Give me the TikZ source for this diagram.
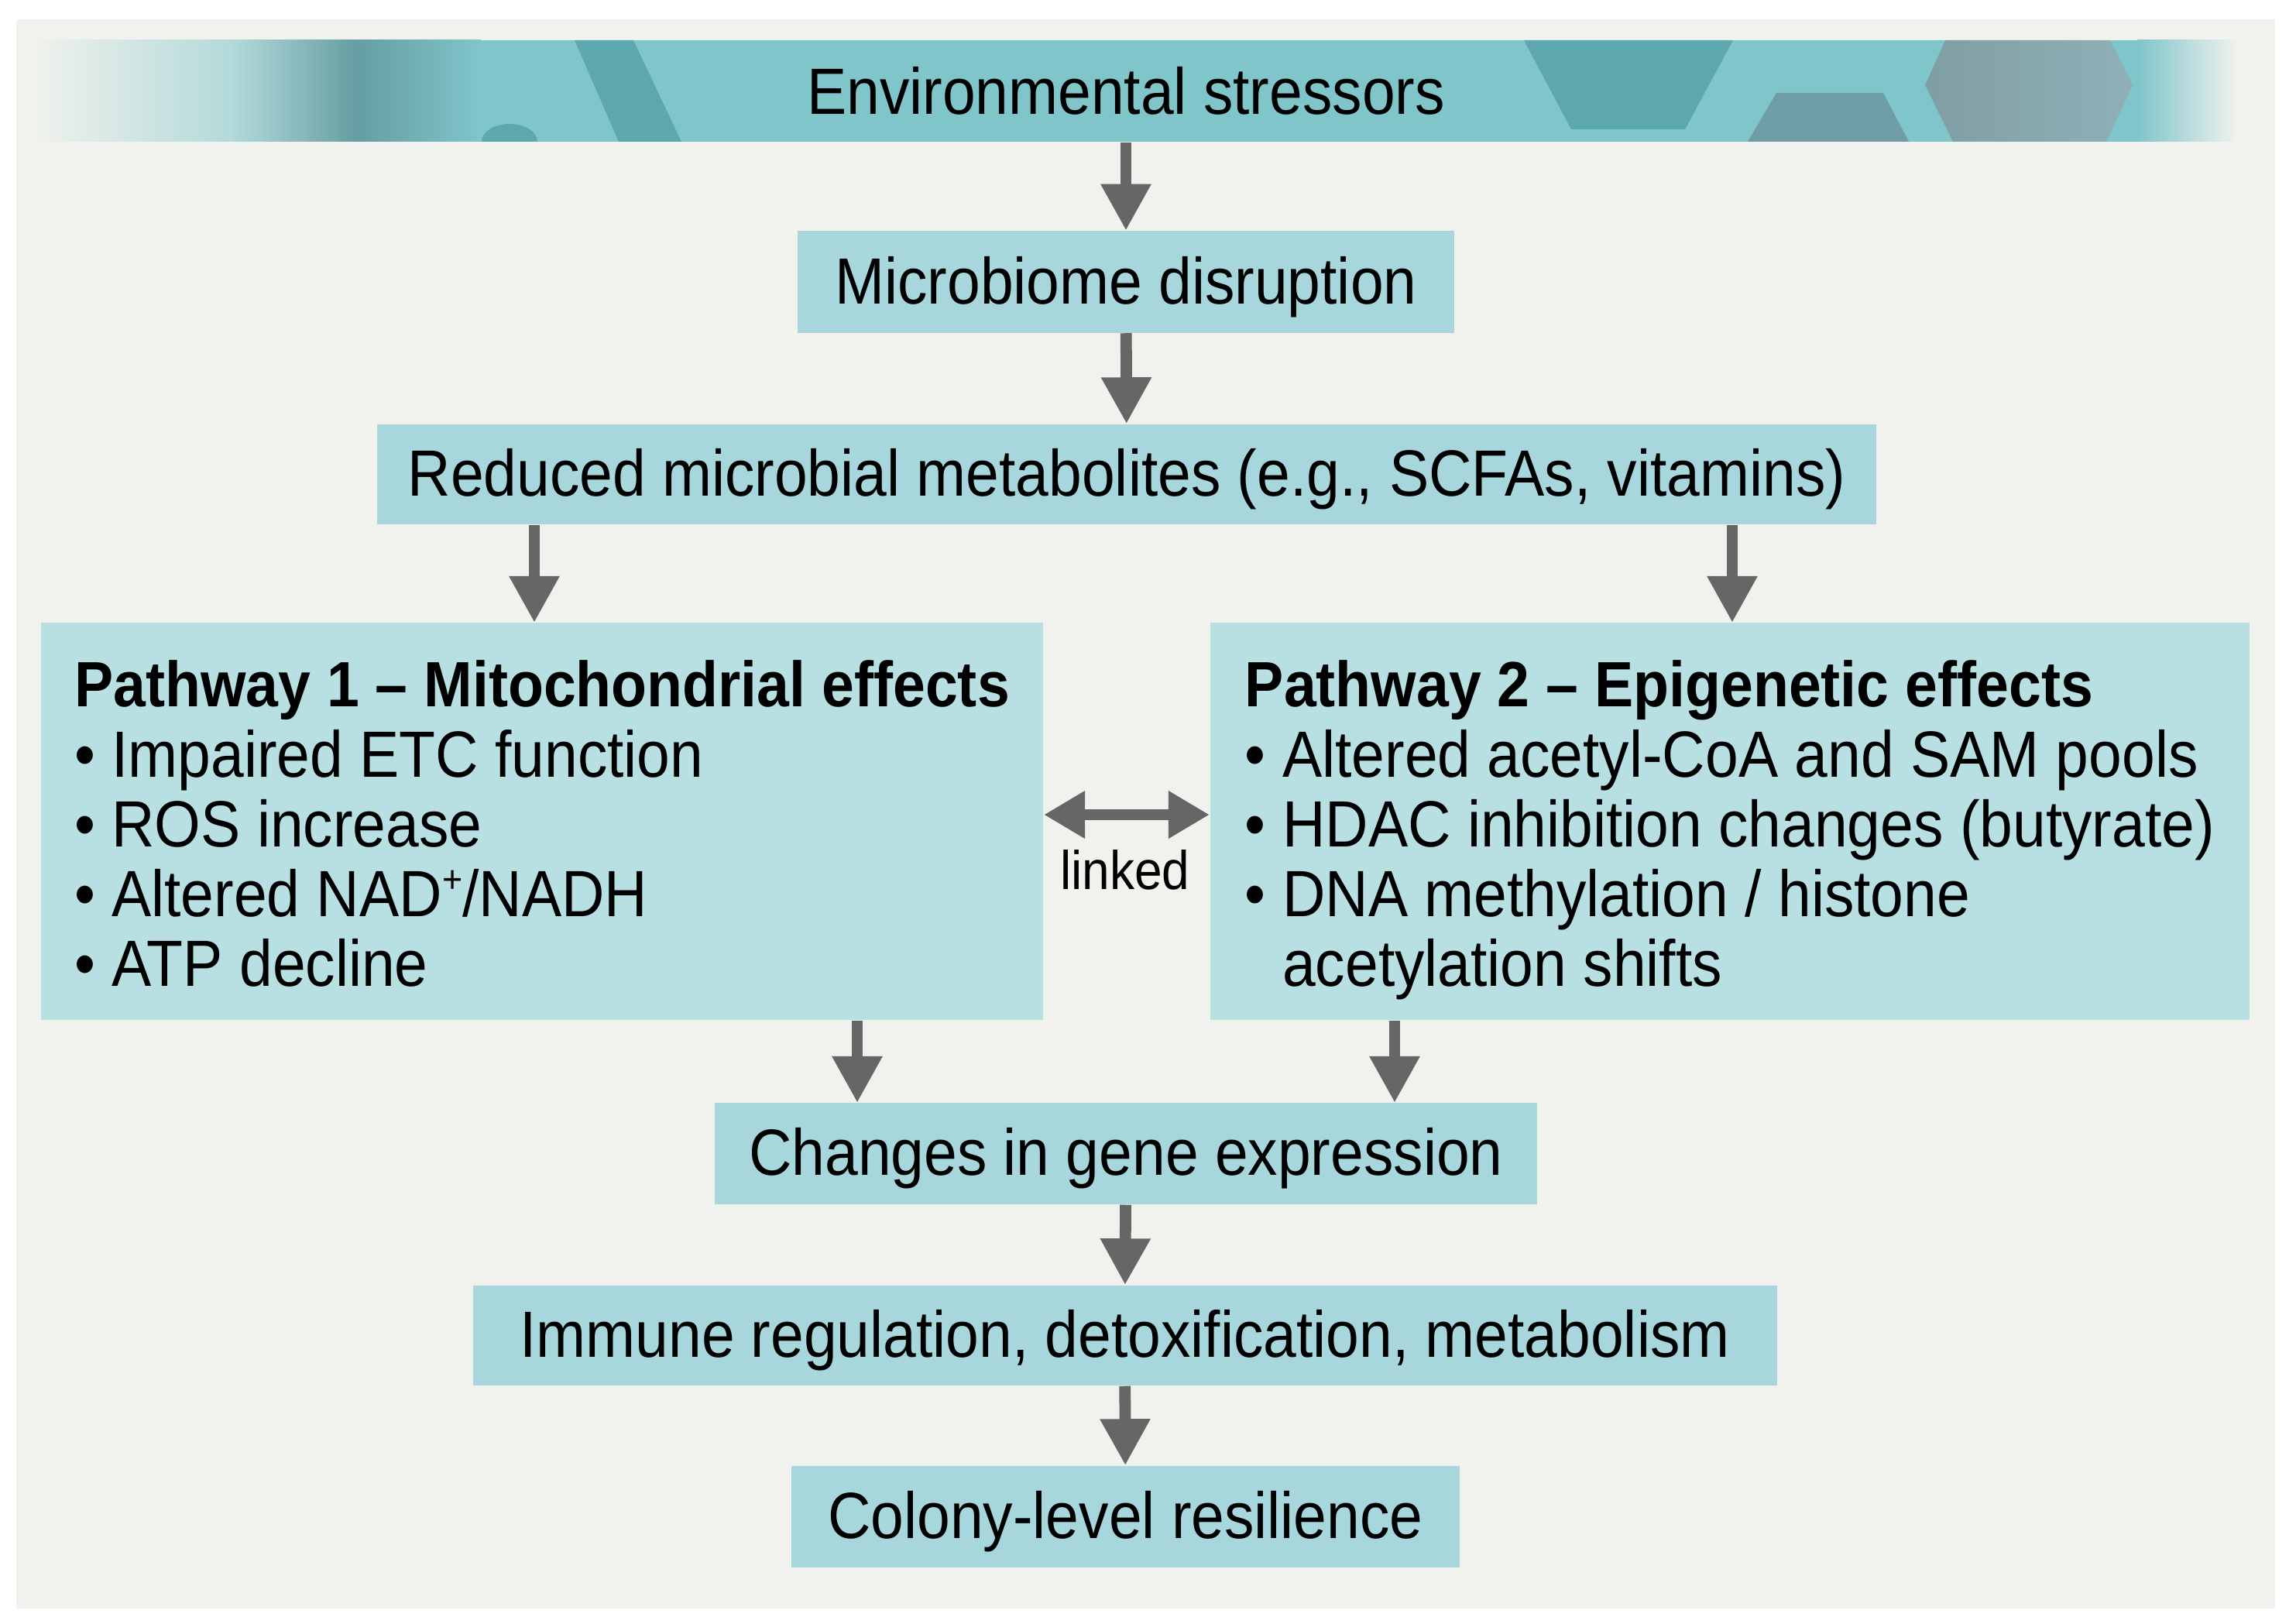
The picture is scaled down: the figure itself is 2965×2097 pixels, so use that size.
\documentclass[tikz,border=0pt]{standalone}
\usepackage{fontspec}
\setmainfont{Liberation Sans}[FakeStretch=0.91]
\usetikzlibrary{arrows.meta}
\definecolor{panel}{HTML}{F1F2ED}
\definecolor{boxfill}{HTML}{A7D7DC}
\definecolor{pathfill}{HTML}{B8E0E3}
\definecolor{banner}{HTML}{7FC5CA}
\definecolor{bannerdark}{HTML}{5DA8AE}
\definecolor{bannergrey}{HTML}{6F9DA5}
\definecolor{hexgrey}{HTML}{8EB0B6}
\definecolor{arrowgrey}{HTML}{666666}
\newcommand{\ptitle}[1]{\rule{0pt}{26.5pt}{\fontsize{23.5}{25.6}\selectfont\bfseries #1}}
\newcommand{\plast}{\rule[-8pt]{0pt}{8pt}}
\newcommand{\supplus}{\raisebox{0.36em}{\fontsize{14}{14}\selectfont +}}

\begin{document}
\begin{tikzpicture}[x=0.01cm, y=-0.01cm]
\tikzstyle{box} = [fill=boxfill, inner sep=0pt, minimum height=1.31cm, text height=18pt, text depth=2pt, font=\fontsize{24}{26}\selectfont]
\tikzstyle{pathbox} = [fill=pathfill, inner sep=0pt, align=left, minimum height=5.13cm, font=\fontsize{24}{25.6}\selectfont]
\tikzstyle{arr} = [draw=arrowgrey, line width=4.2pt, -{Triangle[length=6mm, width=6.1mm]}]
\tikzstyle{twoarr} = [draw=arrowgrey, line width=3.8pt, {Triangle[length=5.3mm, width=5.8mm]}-{Triangle[length=5.3mm, width=5.8mm]}]

\useasboundingbox (0,0) rectangle (2965,2097);
\fill [white] (0,0) rectangle (2965,2097);
\fill [panel] (21,25) rectangle (2938,2077);

\shade [left color=panel, right color=banner!55!panel] (40,52) rectangle (301,183);
\shade [left color=banner!55!panel, right color=banner, middle color=bannerdark!75!gray] (300,52) rectangle (621,183);
\fill [banner] (620,52) rectangle (2761,183);
\shade [left color=banner, right color=panel] (2760,52) rectangle (2890,183);
\fill [bannerdark] (742,52) -- (818,52) -- (880,183) -- (799,183) -- cycle;
\fill [bannerdark] (622,183) arc [start angle=180, end angle=360, x radius=36, y radius=23] -- cycle;
\fill [bannerdark] (1968,52) -- (2238,52) -- (2176,167) -- (2029,167) -- cycle;
\fill [bannergrey] (2294,120) -- (2432,120) -- (2465,183) -- (2257,183) -- cycle;
\shade [left color=hexgrey!90!black, right color=hexgrey] (2512,52) -- (2725,52) -- (2754,110) -- (2720,183) -- (2522,183) -- (2486,110) -- cycle;

\node (env) [inner sep=0pt, minimum width=8cm, minimum height=1.31cm, font=\fontsize{24}{26}\selectfont] at (1454,117.5) {Environmental stressors};
\node [box, minimum width=8.47cm] (micro) at (1454,364) {Microbiome disruption};
\node [box, minimum width=19.34cm, minimum height=1.29cm] (metab) at (1455,612.5) {Reduced microbial metabolites (e.g., SCFAs, vitamins)};
\node [pathbox, minimum width=12.94cm] (mito) at (700,1060.5) {\ptitle{Pathway 1 – Mitochondrial effects}\\• Impaired ETC function\\• ROS increase\\• Altered NAD\supplus/NADH\\• ATP decline\plast};
\node [pathbox, minimum width=13.42cm] (epi) at (2234,1060.5) {\ptitle{Pathway 2 – Epigenetic effects}\\• Altered acetyl-CoA and SAM pools\\• HDAC inhibition changes (butyrate)\\• DNA methylation / histone\\\phantom{• }acetylation shifts\plast};
\node (linked) [inner sep=0pt, font=\fontsize{20}{22}\selectfont] at (1453,1123) {linked};
\node [box, minimum width=10.62cm] (genes) at (1454,1489.5) {Changes in gene expression};
\node [box, minimum width=16.83cm, minimum height=1.29cm] (immune) at (1452.5,1724.5) {Immune regulation, detoxification, metabolism};
\node [box, minimum width=8.63cm] (colony) at (1453.5,1958.5) {Colony-level resilience};

\coordinate (top1) at (690,804);
\coordinate (top2) at (2237,804);
\coordinate (in1) at (1107,1424);
\coordinate (in2) at (1801,1424);

\draw [arr] (env.south) -- (env.south |- micro.north);
\draw [arr] (micro) -- (metab);
\draw [arr] (metab.south -| top1) -- (top1);
\draw [arr] (metab.south -| top2) -- (top2);
\draw [twoarr] ([yshift=0.085cm]mito.east) -- ([yshift=0.085cm]epi.west);
\draw [arr] (mito.south -| in1) -- (in1);
\draw [arr] (epi.south -| in2) -- (in2);
\draw [arr] (genes) -- (immune);
\draw [arr] (immune) -- (colony);
\end{tikzpicture}
\end{document}
